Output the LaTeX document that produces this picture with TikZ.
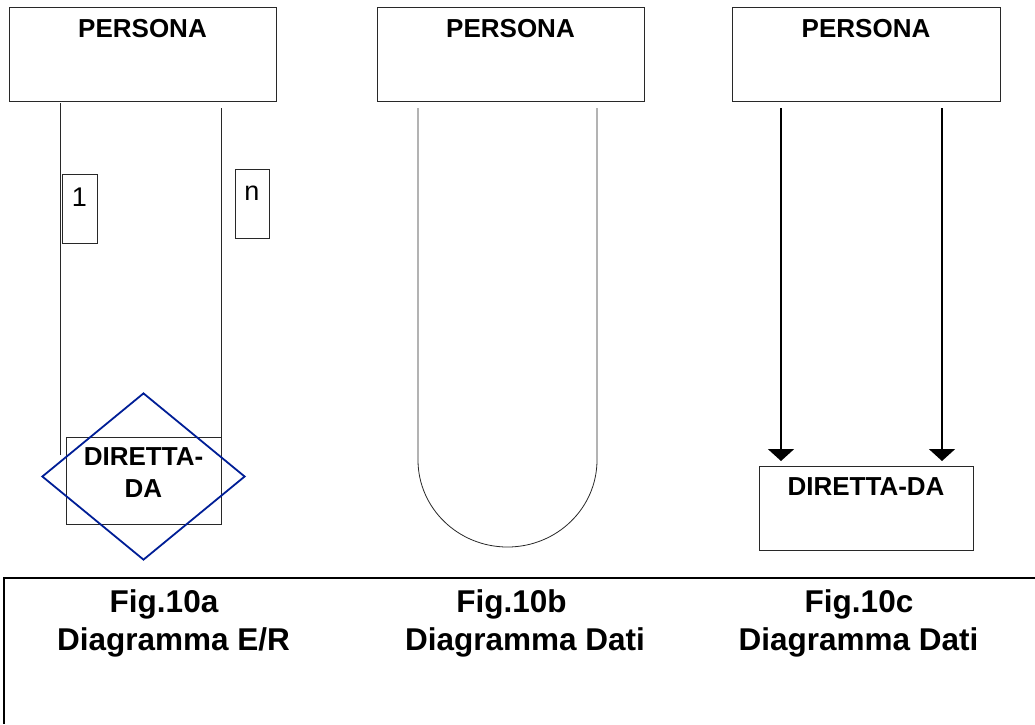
\documentclass[tikz,border=0pt]{standalone}
\usepackage{fontspec}
\setmainfont{Liberation Sans}
\usetikzlibrary{arrows.meta,shapes.geometric}
\definecolor{relblue}{RGB}{0,30,150}
\definecolor{edge}{RGB}{40,40,40}
\tikzset{
  box/.style={draw=edge, line width=1pt, inner sep=0pt, anchor=north west},
  tag/.style={draw=edge, line width=0.8pt, inner sep=0pt, anchor=north west},
  boxtext/.style={anchor=base, inner sep=0pt, font=\fontsize{26}{32}\selectfont\bfseries},
  tagtext/.style={anchor=base, inner sep=0pt, font=\fontsize{27}{32}\selectfont},
  caption/.style={anchor=base, inner sep=0pt, font=\fontsize{31.5}{38}\selectfont\bfseries},
  link/.style={draw=edge, line width=0.8pt},
  pointer/.style={draw=black, line width=2pt, -{Triangle[width=26pt,length=12pt]}},
  rel/.style={draw=relblue, line width=1.8pt, shape=diamond, inner sep=0pt,
    minimum width=203pt, minimum height=167pt}
}
\begin{document}
\begin{tikzpicture}[x=1pt,y=-1pt]
\useasboundingbox (0,0) rectangle (1035,724);

% ---------- Fig. 10a : E/R diagram ----------
\node[box, minimum width=267, minimum height=94] (pa) at (9,7) {};
\node[boxtext] (pat) at (142.5,37) {PERSONA};

\coordinate (a1s) at (60,103);  \coordinate (a1e) at (60,455);
\coordinate (a2s) at (221,108); \coordinate (a2e) at (221,437);
\draw[link] (a1s) -- (a1e);
\draw[link] (a2s) -- (a2e);

\node[tag, minimum width=35, minimum height=69] (one) at (62,174) {};
\node[tagtext] (onet) at (79.5,206) {1};
\node[tag, minimum width=34, minimum height=69] (many) at (235,169) {};
\node[tagtext] (manyt) at (252,200) {n};

\node[box, minimum width=155, minimum height=87] (ra) at (66,437) {};
\node[rel] (dia) at (143.5,476.5) {};
\node[boxtext] (rat1) at (143.5,465) {DIRETTA-};
\node[boxtext] (rat2) at (143.5,497) {DA};

% ---------- Fig. 10b : data diagram ----------
\node[box, minimum width=267, minimum height=94] (pb) at (377,7) {};
\node[boxtext] (pbt) at (510.5,37) {PERSONA};
\coordinate (b1s) at (418,108); \coordinate (b1e) at (418,460);
\coordinate (b2s) at (597,108); \coordinate (b2e) at (597,460);
\draw[link] (b1s) -- (b1e) arc[start angle=180, end angle=360, x radius=89.5, y radius=-87] -- (b2s);

% ---------- Fig. 10c : data diagram ----------
\node[box, minimum width=268, minimum height=94] (pc) at (732,7) {};
\node[boxtext] (pct) at (866,37) {PERSONA};
\node[box, minimum width=214, minimum height=84] (rc) at (759,466) {};
\node[boxtext] (rct) at (866,495) {DIRETTA-DA};
\coordinate (c1s) at (781,108); \coordinate (c1e) at (781,461);
\coordinate (c2s) at (942,108); \coordinate (c2e) at (942,461);
\draw[pointer] (c1s) -- (c1e);
\draw[pointer] (c2s) -- (c2e);

% ---------- caption frame ----------
\draw[draw=black, line width=1.2pt] (1035,578) -- (4,578) -- (4,724);
\node[caption] (ca1) at (164,612) {Fig.10a};
\node[caption] (ca2) at (173.5,650) {Diagramma E/R};
\node[caption] (cb1) at (511.5,612) {Fig.10b};
\node[caption] (cb2) at (525,650) {Diagramma Dati};
\node[caption] (cc1) at (859,612) {Fig.10c};
\node[caption] (cc2) at (858.5,650) {Diagramma Dati};
\end{tikzpicture}
\end{document}
